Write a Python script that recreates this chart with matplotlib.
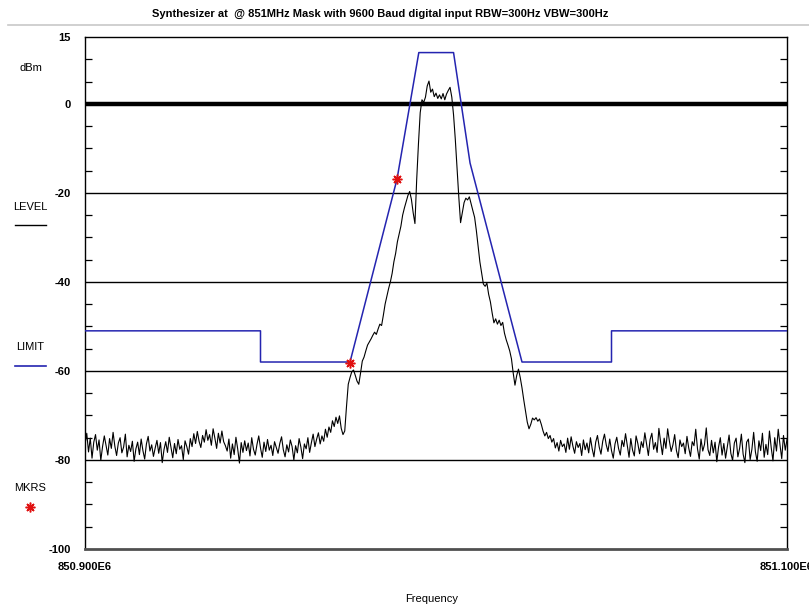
import numpy as np
import matplotlib
matplotlib.use('Agg')
import matplotlib.pyplot as plt

# sweep limits (Hz)
f_start = 850.900e6
f_stop = 851.100e6

# measured trace (dBm), 401 points across the sweep
trace_dbm = [
    # noise floor, left
    -76.5, -74.0, -78.2, -75.1, -79.6, -76.0, -74.3, -77.8, -75.5, -80.1,
    -77.0, -74.6, -76.8, -78.9, -75.2, -77.4, -73.8, -76.9, -79.0, -76.2,
    -75.0, -78.4, -77.1, -74.2, -79.3, -76.7, -78.1, -75.8, -80.3, -77.5,
    -76.0, -78.8, -75.3, -77.9, -79.8, -76.4, -74.7, -78.0, -76.6, -79.2,
    -77.3, -75.6, -78.5, -76.1, -80.6, -77.7, -75.9, -78.3, -74.9, -77.2,
    -79.5, -76.3, -78.6, -75.4, -77.6, -76.8, -79.9, -75.7, -77.0, -78.7,
    -75.2, -77.0, -74.1, -76.3, -73.6, -75.8, -77.2, -74.5, -76.0, -73.2,
    -75.6, -74.3, -76.7, -73.0, -75.1, -77.4, -74.0, -76.2, -73.5, -75.9, -76.8,
    -78.0, -75.3, -79.6, -76.4, -78.8, -74.9, -77.5, -80.7, -76.1, -78.3,
    -75.7, -77.9, -76.2, -79.1, -75.0, -77.6, -78.9, -76.5, -74.6, -77.3,
    -79.4, -76.0, -78.1, -75.4, -77.8, -76.7, -79.0, -75.9, -77.2, -78.5,
    -76.3, -74.8, -77.7, -79.3, -76.6, -78.2, -75.5, -77.0, -80.0, -76.8,
    -78.4, -75.2, -77.1, -79.7, -76.4,
    -77.5, -75.0, -78.3, -76.1, -74.2, -77.0, -75.3, -73.9, -76.4, -74.6,
    -75.8, -73.1, -74.9, -72.6, -73.8, -71.2, -72.5, -70.4, -71.8, -70.1,
    -72.9, -74.3,
    # lower skirt
    -73.5, -68.0, -63.0, -61.5, -60.2, -59.8, -61.0, -62.3, -63.0, -60.5,
    -57.8, -56.9, -55.5, -54.2, -53.5, -52.8, -52.0, -51.3, -51.8, -50.6,
    -49.5, -49.8, -47.5, -45.0, -43.2, -41.5, -40.0, -38.1, -35.5, -33.6,
    -31.0, -29.2, -27.5, -25.0, -23.4, -22.0, -20.6, -19.7, -21.5, -24.5,
    -26.9, -17.0, -9.0, -2.0,
    # carrier
    0.9, 0.3, 1.5, 4.0, 5.1, 2.6, 3.3, 1.6, 2.4, 1.2,
    2.0, 1.1, 2.3, 0.9, 2.2, 3.0, 3.7, 1.5,
    # upper skirt
    -2.5, -8.0, -14.5, -21.0, -26.7, -24.5, -22.2, -21.2, -21.6, -20.9,
    -22.5, -24.0, -25.5, -28.5, -32.0, -35.5, -38.0, -40.5, -41.0, -40.3,
    -42.8, -44.5, -47.0, -49.2, -48.3, -49.5, -48.6, -49.8, -49.1, -51.5,
    -53.0, -54.2, -55.5, -57.3, -60.5, -63.2, -61.0, -59.6, -61.5, -63.8,
    -66.5, -69.0, -71.5, -73.0, -72.0, -70.6, -71.0, -70.5, -71.3, -70.8,
    -72.0, -73.5, -74.6, -73.8, -75.2, -74.5,
    # noise floor, right
    -76.0, -75.2, -77.3, -76.1, -78.0, -75.6, -77.0, -76.4, -78.3, -75.1,
    -77.6, -74.8, -76.9, -78.5, -75.9, -77.2, -76.3, -79.0, -75.5, -77.7,
    -76.2, -78.4, -75.0, -77.5, -79.3, -76.0, -74.5, -77.1, -78.7, -75.8,
    -74.2, -76.6, -78.1, -75.3, -77.9, -79.6, -76.4, -74.9, -77.4, -78.9,
    -75.6, -77.0, -74.1, -76.8, -79.4, -75.2, -77.8, -79.1, -74.6, -76.3,
    -78.6, -75.9, -77.2, -73.9, -76.5, -79.0, -75.4, -74.0, -77.6, -76.1,
    -78.3, -72.9, -76.0, -78.8, -75.1, -77.4, -73.0, -75.8, -78.1, -76.6,
    -74.3, -77.9, -79.5, -75.5, -77.0, -76.2, -78.6, -74.7, -77.3, -79.2,
    -75.9, -76.8, -73.1, -77.5, -79.8, -75.3, -78.0, -76.5, -72.8, -77.7,
    -79.0, -75.6, -78.4, -76.0, -80.4, -77.1, -75.0, -78.9, -76.3, -79.6,
    -77.0, -74.4, -78.5, -80.1, -76.2, -75.1, -79.3, -77.4, -74.2, -78.7,
    -80.6, -76.0, -75.3, -79.9, -77.6, -73.8, -78.2, -80.3, -75.7, -77.9,
    -74.0, -79.4, -76.5, -78.8, -73.5, -77.2, -80.2, -75.0, -78.0, -73.1,
    -76.6, -79.7, -74.5, -77.8, -75.4,
]

# limit mask (MHz, dBm)
mask_mhz = [850.900, 850.950, 850.950, 850.9755, 850.9889, 850.9951,
            851.0050, 851.0097, 851.0245, 851.050, 851.050, 851.100]
mask_dbm = [-51, -51, -58, -58, -16.9, 11.5, 11.5, -13.3, -58, -58, -51, -51]

# markers (MHz, dBm)
mkr_mhz = [850.9755, 850.9889]
mkr_dbm = [-58.2, -16.9]

y_labels = [15, 0, -20, -40, -60, -80, -100]
grid_levels = [-20, -40, -60, -80]

title = 'Synthesizer at  @ 851MHz Mask with 9600 Baud digital input RBW=300Hz VBW=300Hz'

narrow = ['Liberation Sans Narrow', 'DejaVu Sans Condensed', 'Liberation Sans', 'DejaVu Sans']
plt.rcParams['font.family'] = narrow

BLUE = '#2424b0'
RED = '#e01010'

fig = plt.figure(figsize=(8.09, 6.08), dpi=100)
ax = fig.add_axes([85 / 809, 1 - 549 / 608, 702 / 809, 512 / 608])

freqs = np.linspace(f_start, f_stop, len(trace_dbm))

for lev in grid_levels:
    ax.axhline(lev, color='black', lw=1.0, zorder=1)
ax.axhline(0, color='black', lw=3.2, zorder=1)

ax.plot(np.array(mask_mhz) * 1e6, mask_dbm, color=BLUE, lw=1.1, zorder=3)
ax.plot(freqs, trace_dbm, color='black', lw=0.8, zorder=2)
ax.plot(np.array(mkr_mhz) * 1e6, mkr_dbm, ls='none', marker=(8, 2, 0),
        ms=7, mew=1.1, color=RED, zorder=4)

ax.set_xlim(f_start, f_stop)
ax.set_ylim(-100, 15)

ax.set_xticks([f_start, f_stop])
ax.set_xticklabels(['850.900E6', '851.100E6'], fontweight='bold', fontsize=8)
ax.tick_params(axis='x', length=0, pad=9)

ax.set_yticks(y_labels)
ax.set_yticklabels([str(v) for v in y_labels], fontweight='bold', fontsize=8)
ax.set_yticks(np.arange(-95, 15, 5), minor=True)
ax.tick_params(axis='y', which='major', length=0, pad=10)
ax.tick_params(axis='y', which='minor', direction='in', length=5,
               width=0.9, left=True, right=True)

for s in ['top', 'left', 'right']:
    ax.spines[s].set_linewidth(1.0)
ax.spines['bottom'].set_linewidth(2.0)
ax.spines['bottom'].set_color('#505050')

fig.text(432 / 809, 1 - 599 / 608, 'Frequency', ha='center', va='center', fontsize=8)

# header
fig.text(380 / 809, 1 - 14 / 608, title, ha='center', va='center',
         fontsize=8, fontweight='bold')
fig.add_artist(plt.Line2D([8 / 809, 1], [1 - 25 / 608] * 2,
                          color='#c8c8c8', lw=1.2))

# left side legend
fig.text(31 / 809, 1 - 68 / 608, 'dBm', ha='center', va='center', fontsize=8)
fig.text(30 / 809, 1 - 207 / 608, 'LEVEL', ha='center', va='center', fontsize=8)
fig.add_artist(plt.Line2D([15 / 809, 46 / 809], [1 - 225 / 608] * 2,
                          color='black', lw=1.0))
fig.text(30 / 809, 1 - 347 / 608, 'LIMIT', ha='center', va='center', fontsize=8)
fig.add_artist(plt.Line2D([15 / 809, 46 / 809], [1 - 366 / 608] * 2,
                          color=BLUE, lw=1.2))
fig.text(30 / 809, 1 - 488 / 608, 'MKRS', ha='center', va='center', fontsize=8)
fig.add_artist(plt.Line2D([30 / 809], [1 - 507 / 608], ls='none',
                          marker=(8, 2, 0), ms=7, mew=1.1, color=RED))

fig.savefig('out.png', dpi=100)
